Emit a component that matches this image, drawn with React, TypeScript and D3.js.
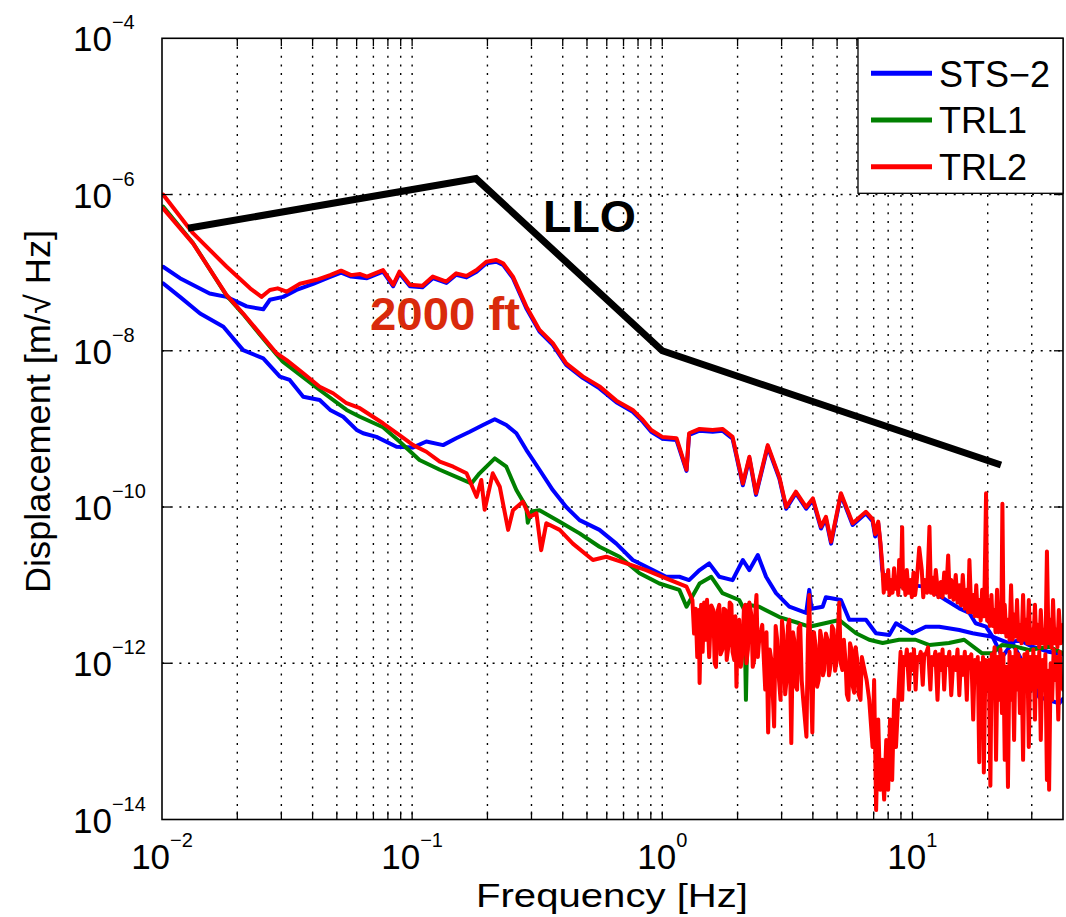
import React from 'react';
import * as d3 from 'd3';

const W = 1066;
const H = 917;
const PLOT = { left: 162, right: 1063, top: 38.3, bottom: 819.5 };
const FONT = 'Liberation Sans, Arial, Helvetica, sans-serif';

const xDomain: [number, number] = [0.01, 40];
const yDomain: [number, number] = [1e-14, 1e-4];
const xTickExps = [-2, -1, 0, 1];
const yTickExps = [-4, -6, -8, -10, -12, -14];
const yGridExps = [-6, -8, -10, -12];

const xTitle = 'Frequency [Hz]';
const yTitle = 'Displacement [m/\u221A Hz]';

const legendItems = [
  { label: 'STS\u22122', color: '#0000ff' },
  { label: 'TRL1', color: '#008000' },
  { label: 'TRL2', color: '#ff0000' },
];

// LLO requirement curve [Hz, m/rtHz]
const lloModel: [number, number][] = [
  [0.0127, 3.7e-7], [0.18, 1.6e-6], [1.0, 1.0e-8], [22.6, 3.45e-10],
];

// 2000 ft group, STS-2 (mostly hidden under TRL2)
const stsUpper: [number, number][] = [
  [0.0101, 1.19e-7], [0.0118, 8.5e-8], [0.0155, 5.4e-8], [0.0181, 4.9e-8], [0.0218, 3.7e-8],
  [0.0254, 3.4e-8], [0.027, 4.5e-8], [0.0305, 4.9e-8], [0.0345, 6.0e-8], [0.0402, 7.2e-8],
  [0.047, 8.8e-8], [0.052, 1.0e-7], [0.057, 8.9e-8], [0.066, 8.5e-8], [0.0765, 1.03e-7],
  [0.084, 6.7e-8], [0.089, 9.8e-8], [0.098, 6.7e-8], [0.11, 6.5e-8], [0.121, 8.5e-8],
  [0.137, 7.4e-8], [0.15, 9.4e-8], [0.165, 8.7e-8], [0.181, 1.03e-7], [0.198, 1.32e-7],
  [0.217, 1.38e-7], [0.231, 1.26e-7], [0.253, 8.5e-8], [0.286, 3.5e-8], [0.323, 1.76e-8],
  [0.365, 1.19e-8], [0.413, 6.6e-9], [0.481, 4.5e-9], [0.561, 3.3e-9], [0.655, 2.2e-9],
  [0.762, 1.66e-9], [0.836, 1.24e-9], [0.903, 9.2e-10], [1.0, 7.5e-10], [1.14, 7.2e-10],
  [1.25, 2.9e-10], [1.28, 8.4e-10], [1.41, 9.5e-10], [1.59, 9.2e-10], [1.74, 9.5e-10],
  [1.91, 7.5e-10], [2.1, 1.9e-10], [2.23, 4.2e-10], [2.37, 1.43e-10], [2.64, 5.9e-10],
  [2.94, 2.3e-10], [3.13, 9.5e-11], [3.42, 1.5e-10], [3.76, 9.5e-11], [4.0, 1.23e-10],
  [4.31, 5.3e-11], [4.51, 7.1e-11], [4.73, 3.4e-11], [5.18, 1.43e-10], [5.77, 5.9e-11],
  [6.52, 8.3e-11], [6.93, 6.6e-11], [7.1, 4.2e-11], [7.3, 6.2e-11], [7.45, 3.3e-11],
  [7.57, 1.6e-11], [7.84, 9.5e-12], [8.86, 1.16e-11], [10, 1.0e-11], [11.3, 9.5e-12],
  [13.6, 6.45e-12], [15.4, 5.05e-12], [16.9, 4.4e-12], [17.9, 3.25e-12], [19.7, 2.94e-12],
  [20.9, 2.19e-12], [22.9, 1.21e-12], [25.1, 1.82e-12], [30.2, 6.1e-13], [32.1, 3.7e-13],
  [38.6, 3.07e-13], [40, 3.5e-13],
];

// surface group, STS-2
const stsLower: [number, number][] = [
  [0.0101, 7.3e-8], [0.0118, 4.9e-8], [0.0142, 3.0e-8], [0.0176, 2.03e-8], [0.0211, 1.02e-8],
  [0.0254, 8.0e-9], [0.0296, 4.66e-9], [0.0324, 4.23e-9], [0.0367, 2.58e-9], [0.0427, 2.34e-9],
  [0.047, 1.75e-9], [0.053, 1.43e-9], [0.06, 9.7e-10], [0.0637, 8.8e-10], [0.072, 7.9e-10],
  [0.0866, 5.9e-10], [0.101, 5.8e-10], [0.114, 6.9e-10], [0.133, 6.2e-10], [0.15, 7.6e-10],
  [0.17, 9.2e-10], [0.192, 1.12e-9], [0.214, 1.33e-9], [0.238, 1.12e-9], [0.261, 8.8e-10],
  [0.286, 5.4e-10], [0.323, 3.0e-10], [0.365, 1.65e-10], [0.413, 1.0e-10], [0.467, 6.8e-11],
  [0.561, 5.1e-11], [0.655, 3.4e-11], [0.762, 2.1e-11], [0.916, 1.56e-11], [1.036, 1.28e-11],
  [1.17, 1.28e-11], [1.28, 1.16e-11], [1.41, 1.56e-11], [1.54, 1.9e-11], [1.69, 1.28e-11],
  [1.91, 1.16e-11], [2.1, 2.1e-11], [2.23, 1.56e-11], [2.41, 2.43e-11], [2.6, 1.28e-11],
  [2.85, 7.9e-12], [3.22, 5.3e-12], [3.76, 4.4e-12], [3.87, 8.7e-12], [3.95, 5.0e-12],
  [4.38, 5.3e-12], [4.51, 7.0e-12], [5.18, 6.45e-12], [5.59, 3.6e-12], [6.52, 3.6e-12],
  [7.15, 2.42e-12], [8.08, 2.3e-12], [8.6, 3.25e-12], [10, 2.42e-12], [11.3, 2.94e-12],
  [12.8, 2.94e-12], [15.4, 2.67e-12], [17.4, 2.42e-12], [20.9, 2.19e-12], [24.4, 1.8e-12],
  [26.7, 1.99e-12], [30.2, 1.63e-12], [35, 1.4e-12], [40, 1.3e-12],
];

// surface group, TRL1
const trl1Lower: [number, number][] = [
  [0.0101, 7.0e-7], [0.0133, 2.4e-7], [0.0181, 5.1e-8], [0.0211, 2.95e-8], [0.0246, 1.62e-8],
  [0.0287, 9.0e-9], [0.0305, 7.2e-9], [0.0427, 3.15e-9], [0.0547, 1.75e-9], [0.0618, 1.43e-9],
  [0.0765, 1.05e-9], [0.089, 6.9e-10], [0.107, 4.0e-10], [0.129, 3.0e-10], [0.155, 2.33e-10],
  [0.1725, 2.0e-10], [0.186, 2.7e-10], [0.214, 4.2e-10], [0.238, 3.28e-10], [0.261, 1.65e-10],
  [0.286, 1.0e-10], [0.29, 6.3e-11], [0.3, 8.8e-11], [0.323, 9.1e-11], [0.389, 6.5e-11],
  [0.467, 4.6e-11], [0.561, 3.1e-11], [0.675, 2.31e-11], [0.811, 1.42e-11], [0.974, 1.05e-11],
  [1.17, 8.7e-12], [1.25, 5.3e-12], [1.41, 1.05e-11], [1.57, 1.28e-11], [1.74, 7.9e-12],
  [2.03, 6.45e-12], [2.13, 4.8e-12], [2.16, 3.4e-13], [2.2, 5.6e-12], [2.44, 5.3e-12],
  [2.94, 3.9e-12], [3.53, 3.25e-12], [3.87, 2.94e-12], [5.1, 3.58e-12], [5.95, 2.42e-12],
  [6.72, 2.0e-12], [7.6, 1.82e-12], [8.85, 2.0e-12], [10.3, 2.0e-12], [11.7, 1.71e-12],
  [14.0, 1.82e-12], [16.1, 2.0e-12], [19.0, 1.34e-12], [20.9, 1.34e-12], [22.8, 1.71e-12],
  [25.9, 1.63e-12], [29.2, 1.48e-12], [35.2, 1.63e-12], [40, 1.34e-12],
];

// surface group, TRL2
const trl2Lower: [number, number][] = [
  [0.0101, 6.65e-7], [0.0133, 2.37e-7], [0.0181, 5.2e-8], [0.0211, 3.0e-8], [0.0246, 1.67e-8],
  [0.0287, 9.3e-9], [0.0315, 7.6e-9], [0.0367, 5.15e-9], [0.0427, 3.47e-9], [0.0483, 2.86e-9],
  [0.0547, 2.13e-9], [0.0618, 1.84e-9], [0.0765, 1.18e-9], [0.089, 8.3e-10], [0.101, 6.2e-10],
  [0.114, 5.1e-10], [0.129, 3.8e-10], [0.146, 3.28e-10], [0.165, 2.7e-10], [0.181, 1.35e-10],
  [0.189, 2.22e-10], [0.195, 9.2e-11], [0.21, 2.7e-10], [0.224, 1.82e-10], [0.242, 5.1e-11],
  [0.253, 9.1e-11], [0.277, 1.17e-10], [0.295, 7.5e-11], [0.314, 8.3e-11], [0.328, 2.8e-11],
  [0.344, 6.2e-11], [0.389, 5.1e-11], [0.439, 3.4e-11], [0.528, 2.1e-11], [0.597, 2.31e-11],
  [0.718, 1.9e-11], [0.862, 1.56e-11], [1.036, 1.22e-11], [1.25, 9.55e-12],
  [1.32, 6.45e-12], [1.34, 2.4e-12], [1.36, 5.0e-12], [1.38, 1.2e-12], [1.4, 4.8e-12], [1.41, 5.6e-13], [1.43, 5.6e-12],
  [1.45, 1.4e-12], [1.47, 6.0e-12], [1.49, 2.0e-12], [1.51, 6.5e-12], [1.54, 1.2e-12], [1.57, 5.5e-12],
  [1.6, 4.8e-12], [1.62, 1.0e-12], [1.64, 9.0e-13], [1.66, 4.5e-12],
  [1.69, 5.6e-12], [1.71, 1.3e-12], [1.74, 1.5e-12], [1.76, 5.0e-12], [1.79, 4.8e-12], [1.81, 1.1e-12], [1.84, 1.7e-12],
  [1.86, 6.0e-12], [1.89, 5.6e-12], [1.91, 1.4e-12],
  [1.94, 1.1e-12], [1.96, 4.0e-12], [1.98, 5.0e-13], [2.0, 3.0e-12], [2.03, 3.6e-12], [2.06, 9.0e-13], [2.09, 1.3e-12],
  [2.12, 5.0e-12], [2.15, 5.6e-12], [2.17, 1.0e-12],
  [2.2, 1.5e-12], [2.23, 6.0e-12], [2.27, 4.2e-12], [2.3, 9.0e-13], [2.33, 1.1e-12], [2.36, 5.0e-12], [2.38, 7.5e-12],
  [2.41, 1.2e-12], [2.44, 2.0e-12],
  [2.51, 3.1e-12], [2.58, 4.6e-13], [2.61, 2.5e-12], [2.65, 1.3e-13], [2.69, 1.5e-12], [2.73, 1.1e-12], [2.8, 1.55e-13],
  [2.84, 3.0e-12], [2.88, 2.0e-12], [2.93, 6.0e-13], [2.97, 3.4e-13], [3.01, 3.5e-12], [3.05, 2.3e-12], [3.1, 4.0e-13],
  [3.14, 6.1e-13], [3.18, 3.0e-12], [3.22, 3.6e-12],
  [3.28, 9.5e-14], [3.33, 2.5e-12], [3.37, 2.0e-12], [3.42, 5.0e-13], [3.46, 4.6e-13], [3.51, 2.8e-12], [3.56, 3.1e-12],
  [3.61, 6.0e-13], [3.66, 3.4e-13],
  [3.77, 1.15e-13], [3.82, 2.0e-12], [3.87, 7.5e-12], [3.92, 8.0e-13], [3.98, 1.3e-13], [4.04, 2.5e-12], [4.1, 1.7e-12],
  [4.16, 5.0e-13], [4.22, 6.1e-13],
  [4.28, 2.6e-12], [4.34, 2.0e-12], [4.39, 7.0e-13], [4.44, 8.2e-13], [4.51, 2.4e-12], [4.58, 2.0e-12], [4.64, 7.0e-13],
  [4.71, 9.5e-13], [4.77, 3.0e-12], [4.84, 2.7e-12], [4.91, 8.0e-13],
  [4.98, 1.1e-12], [5.1, 6.0e-12], [5.17, 1.0e-12], [5.25, 8.2e-13], [5.32, 2.0e-12], [5.4, 1.1e-12], [5.47, 4.0e-13],
  [5.55, 3.4e-13], [5.63, 1.8e-12],
  [5.71, 1.5e-12], [5.78, 5.0e-13], [5.85, 4.2e-13], [5.93, 1.6e-12], [6.02, 1.1e-12], [6.1, 4.0e-13], [6.2, 3.4e-13],
  [6.28, 1.2e-12], [6.37, 9.5e-13],
  [6.56, 6.1e-13], [6.72, 3.4e-13], [6.93, 8.5e-14], [7.03, 6.1e-13], [7.16, 1.32e-14],
  [7.3, 1.9e-13], [7.43, 2.4e-14], [7.57, 5.8e-14], [7.71, 1.8e-14], [7.86, 1.04e-13],
  [8.0, 2.4e-14], [8.14, 1.9e-13], [8.3, 3.2e-14], [8.45, 3.4e-13], [8.6, 8.5e-14],
  [8.85, 6.1e-13], [8.97, 1.4e-12], [9.1, 3.4e-13], [9.22, 1.2e-12], [9.35, 9.5e-13], [9.5, 1.5e-12],
  [9.7, 4.6e-13], [9.85, 1.3e-12], [10.0, 8.2e-13], [10.15, 1.5e-12], [10.3, 4.6e-13], [10.45, 1.2e-12],
  [10.6, 1.1e-12], [10.8, 1.4e-12], [11.0, 5.3e-13], [11.15, 1.3e-12], [11.3, 1.3e-12], [11.55, 1.6e-12],
  [11.8, 4.6e-13], [11.95, 1.2e-12], [12.1, 9.5e-13], [12.35, 1.4e-12], [12.6, 3.4e-13], [12.8, 1.3e-12],
  [13.0, 8.2e-13], [13.2, 1.5e-12], [13.4, 4.6e-13], [13.6, 1.2e-12], [13.8, 9.5e-13], [14.05, 1.4e-12],
  [14.3, 3.9e-13], [14.6, 1.2e-12], [14.9, 8.2e-13], [15.15, 1.5e-12], [15.4, 3.9e-13], [15.65, 1.2e-12],
  [15.9, 7.1e-13], [16.2, 1.4e-12], [16.5, 3.4e-13], [16.7, 1.2e-12], [16.9, 1.1e-12], [17.2, 1.3e-12],
  [17.5, 1.9e-13], [17.75, 1.1e-12], [18.0, 6.1e-13], [18.25, 1.2e-12], [18.5, 5.4e-14], [18.75, 1.0e-12],
  [19.0, 3.4e-13], [19.15, 1.2e-12], [19.3, 4.0e-14], [19.6, 1.1e-12], [19.9, 4.6e-13], [20.2, 1.1e-12],
  [20.5, 2.7e-14], [20.75, 1.3e-12], [21.0, 6.1e-13], [21.3, 1.6e-12], [21.6, 5.8e-14], [21.9, 1.2e-12],
  [22.2, 3.4e-13], [22.5, 1.5e-12], [22.8, 2.3e-13], [23.1, 1.3e-12], [23.4, 5.8e-14], [23.75, 9.0e-13],
  [24.1, 2.6e-14], [24.45, 1.4e-12], [24.8, 3.4e-13], [25.15, 1.2e-12], [25.5, 1.04e-13], [25.85, 1.5e-12],
  [26.2, 4.6e-13], [26.55, 1.3e-12], [26.9, 2.3e-13], [27.3, 1.1e-12], [27.7, 5.8e-14], [28.05, 1.3e-12],
  [28.4, 6.1e-13], [28.8, 1.4e-12], [29.2, 8.5e-14], [29.6, 1.2e-12], [30.0, 4.6e-13], [30.45, 1.5e-12],
  [30.9, 1.9e-13], [31.3, 1.2e-12], [31.7, 5.0e-13], [32.15, 1.4e-12], [32.6, 1.04e-13], [33.1, 1.1e-12],
  [33.6, 4.6e-13], [34.0, 1.3e-12], [34.5, 3.2e-14], [34.85, 8.0e-13], [35.2, 2.4e-14], [35.7, 1.0e-12],
  [36.2, 3.4e-13], [36.7, 1.5e-12], [37.2, 6.1e-13], [37.75, 1.2e-12], [38.3, 1.9e-13], [38.8, 1.4e-12],
  [39.3, 6.1e-13], [40, 4.6e-13],
];

// 2000 ft group, TRL2
const trl2Upper: [number, number][] = [
  [0.0101, 1.0e-6], [0.0133, 3.2e-7], [0.0181, 1.2e-7], [0.0225, 6.3e-8], [0.025, 4.9e-8],
  [0.027, 6.0e-8], [0.029, 6.3e-8], [0.0315, 5.7e-8], [0.0356, 7.2e-8], [0.0415, 8.1e-8],
  [0.047, 9.3e-8], [0.052, 1.06e-7], [0.057, 9.3e-8], [0.062, 9.6e-8], [0.066, 8.9e-8],
  [0.0765, 1.08e-7], [0.084, 7.0e-8], [0.089, 1.03e-7], [0.098, 7.0e-8], [0.11, 6.8e-8],
  [0.121, 8.9e-8], [0.137, 7.7e-8], [0.15, 9.8e-8], [0.165, 9.1e-8], [0.181, 1.08e-7],
  [0.198, 1.38e-7], [0.217, 1.45e-7], [0.231, 1.32e-7], [0.253, 8.9e-8], [0.286, 3.7e-8],
  [0.323, 1.85e-8], [0.365, 1.25e-8], [0.413, 6.9e-9], [0.481, 4.7e-9], [0.561, 3.5e-9],
  [0.655, 2.3e-9], [0.762, 1.75e-9], [0.836, 1.3e-9], [0.903, 9.7e-10], [1.0, 7.9e-10],
  [1.14, 7.6e-10], [1.25, 3.0e-10], [1.28, 8.8e-10], [1.41, 1.0e-9], [1.59, 9.7e-10],
  [1.74, 1.0e-9], [1.91, 7.9e-10], [2.1, 2.0e-10], [2.23, 4.4e-10], [2.37, 1.5e-10],
  [2.64, 6.2e-10], [2.94, 2.4e-10], [3.13, 1.0e-10], [3.42, 1.57e-10], [3.76, 1.0e-10],
  [4.0, 1.29e-10], [4.31, 5.6e-11], [4.51, 7.5e-11], [4.73, 3.6e-11], [5.18, 1.5e-10],
  [5.77, 6.2e-11], [6.52, 8.7e-11], [6.93, 7.0e-11], [7.1, 4.5e-11], [7.3, 6.5e-11],
  [7.45, 3.5e-11], [7.57, 1.9e-11], [7.68, 8.0e-12], [7.78, 1.35e-11], [7.9, 9.0e-12], [8.0, 1.56e-11],
  [8.1, 7.5e-12], [8.2, 1.16e-11], [8.33, 8.0e-12], [8.45, 1.65e-11], [8.58, 9.0e-12], [8.7, 1.25e-11],
  [8.78, 7.5e-12], [8.85, 2.1e-11], [9.0, 1.0e-11], [9.1, 5.5e-11], [9.18, 9.0e-12], [9.26, 1.25e-11],
  [9.38, 7.5e-12], [9.5, 1.56e-11], [9.65, 8.0e-12], [9.8, 1.16e-11], [9.95, 7.0e-12], [10.1, 1.45e-11],
  [10.25, 7.5e-12], [10.4, 1.1e-11], [10.65, 3.0e-11], [10.9, 1.56e-11], [11.05, 7.0e-12], [11.2, 1.16e-11],
  [11.45, 8.0e-12], [11.7, 5.6e-11], [11.85, 8.0e-12], [12.0, 1.25e-11], [12.2, 7.5e-12], [12.4, 1.56e-11],
  [12.7, 7.0e-12], [13.0, 1.1e-11], [13.2, 7.0e-12], [13.4, 1.45e-11], [13.65, 8.0e-12], [13.9, 2.4e-11],
  [14.1, 7.0e-12], [14.3, 1.16e-11], [14.6, 6.5e-12], [14.9, 1.35e-11], [15.15, 6.0e-12], [15.4, 1.0e-11],
  [15.65, 5.5e-12], [15.9, 1.35e-11], [16.2, 5.0e-12], [16.5, 8.7e-12], [16.7, 4.5e-12], [16.9, 2.1e-11],
  [17.2, 4.5e-12], [17.5, 7.5e-12], [17.75, 4.0e-12], [18.0, 1.0e-11], [18.25, 4.0e-12], [18.5, 6.45e-12],
  [18.75, 3.5e-12], [19.0, 8.7e-12], [19.35, 4.0e-12], [19.7, 1.5e-10], [19.9, 3.5e-12], [20.1, 6.45e-12],
  [20.4, 3.0e-12], [20.7, 7.5e-12], [20.95, 3.0e-12], [21.2, 4.8e-12], [21.5, 2.5e-12], [21.8, 8.7e-12],
  [22.1, 2.5e-12], [22.4, 4.8e-12], [22.65, 2.5e-12], [22.9, 1.1e-10], [23.15, 2.5e-12], [23.4, 5.6e-12],
  [23.75, 2.2e-12], [24.1, 3.6e-12], [24.45, 2.0e-12], [24.8, 1.0e-11], [25.15, 2.0e-12], [25.5, 4.2e-12],
  [25.85, 2.2e-12], [26.2, 6.45e-12], [26.55, 2.0e-12], [26.9, 3.1e-12], [27.3, 1.8e-12], [27.7, 7.5e-12],
  [28.05, 2.0e-12], [28.4, 3.6e-12], [28.8, 1.8e-12], [29.2, 6.45e-12], [29.6, 1.8e-12], [30.0, 2.7e-12],
  [30.45, 1.8e-12], [30.9, 5.6e-12], [31.3, 1.8e-12], [31.7, 3.1e-12], [32.15, 1.6e-12], [32.6, 4.8e-12],
  [33.1, 1.8e-12], [33.6, 2.7e-12], [34.05, 1.6e-12], [34.5, 2.7e-11], [35.0, 1.8e-12], [35.5, 3.6e-12],
  [36.0, 1.6e-12], [36.5, 6.45e-12], [37.0, 1.8e-12], [37.5, 2.7e-12], [38.0, 1.6e-12], [38.5, 4.8e-12],
  [39.2, 1.8e-12], [40, 3.1e-12],
];

const seriesDraw = [
  { data: stsUpper, color: '#0000ff' },
  { data: stsLower, color: '#0000ff' },
  { data: trl1Lower, color: '#008000' },
  { data: trl2Lower, color: '#ff0000' },
  { data: trl2Upper, color: '#ff0000' },
];

export default function App() {
  const x = d3.scaleLog().domain(xDomain).range([PLOT.left, PLOT.right]);
  const y = d3.scaleLog().domain(yDomain).range([PLOT.bottom, PLOT.top]);
  const line = d3.line<[number, number]>().x(d => x(d[0])).y(d => y(d[1]));

  const minorX: number[] = [];
  for (let e = -2; e <= 1; e++) {
    for (let m = 1; m <= 9; m++) {
      const v = +(m * Math.pow(10, e)).toPrecision(6);
      if (v > xDomain[0] * 1.0001 && v < xDomain[1] * 0.9999) minorX.push(v);
    }
  }

  const supText = (e: number) => (e < 0 ? '\u2212' + Math.abs(e) : String(e));

  return (
    <svg width={W} height={H} style={{ position: 'absolute', left: 0, top: 0, background: '#fff' }}
      fontFamily={FONT}>
      <defs>
        <clipPath id="plotclip">
          <rect x={PLOT.left} y={PLOT.top} width={PLOT.right - PLOT.left} height={PLOT.bottom - PLOT.top} />
        </clipPath>
      </defs>
      <rect x={0} y={0} width={W} height={H} fill="#fff" />

      {/* grid */}
      <g stroke="#000" strokeWidth={1.4} strokeDasharray="2,6.7">
        {minorX.map(v => (
          <line key={'gx' + v} x1={x(v)} x2={x(v)} y1={PLOT.top} y2={PLOT.bottom} />
        ))}
        {yGridExps.map(e => (
          <line key={'gy' + e} x1={PLOT.left} x2={PLOT.right} y1={y(Math.pow(10, e))} y2={y(Math.pow(10, e))} />
        ))}
      </g>

      {/* data */}
      <g clipPath="url(#plotclip)" fill="none" strokeWidth={4} strokeLinejoin="round" strokeLinecap="round">
        {seriesDraw.map((s, i) => (
          <path key={i} d={line(s.data) || ''} stroke={s.color} />
        ))}
      </g>

      {/* LLO model */}
      <path d={line(lloModel) || ''} fill="none" stroke="#000" strokeWidth={7} strokeLinejoin="miter" strokeLinecap="butt" />
      <text x={543} y={232} fontSize={44} fontWeight="bold" fill="#000" textLength={93} lengthAdjust="spacingAndGlyphs">LLO</text>
      <text x={370} y={330} fontSize={46} fontWeight="bold" fill="#d92a0c" textLength={150} lengthAdjust="spacingAndGlyphs">2000 ft</text>

      {/* frame and ticks */}
      <g stroke="#000" strokeWidth={1.3}>
        {minorX.map(v => (
          <g key={'tx' + v}>
            <line x1={x(v)} x2={x(v)} y1={PLOT.bottom} y2={PLOT.bottom - 8} />
            <line x1={x(v)} x2={x(v)} y1={PLOT.top} y2={PLOT.top + 8} />
          </g>
        ))}
        {yGridExps.map(e => (
          <g key={'ty' + e}>
            <line x1={PLOT.left} x2={PLOT.left + 9} y1={y(Math.pow(10, e))} y2={y(Math.pow(10, e))} />
            <line x1={PLOT.right} x2={PLOT.right - 9} y1={y(Math.pow(10, e))} y2={y(Math.pow(10, e))} />
          </g>
        ))}
        <rect x={PLOT.left} y={PLOT.top} width={PLOT.right - PLOT.left} height={PLOT.bottom - PLOT.top} fill="none" strokeWidth={1.6} />
      </g>

      {/* y tick labels */}
      {yTickExps.map(e => (
        <text key={'yl' + e} x={73} y={y(Math.pow(10, e)) + 13} fontSize={35} fill="#000">
          10<tspan fontSize={20} dy={-22}>{supText(e)}</tspan>
        </text>
      ))}

      {/* x tick labels */}
      {xTickExps.map(e => (
        <text key={'xl' + e} x={x(Math.pow(10, e))} y={869} fontSize={35} fill="#000" textAnchor="middle">
          10<tspan fontSize={20} dy={-22}>{supText(e)}</tspan>
        </text>
      ))}

      {/* axis titles */}
      <text x={476} y={907} fontSize={33} fill="#000" textLength={272} lengthAdjust="spacingAndGlyphs">{xTitle}</text>
      <text transform="translate(50,411.5) rotate(-90)" fontSize={35} fill="#000" textAnchor="middle"
        textLength={363} lengthAdjust="spacingAndGlyphs">{yTitle}</text>

      {/* legend */}
      <g>
        <rect x={858} y={PLOT.top} width={PLOT.right - 858} height={155} fill="#fff" stroke="#000" strokeWidth={1.3} />
        {legendItems.map((it, i) => {
          const ly = 73.3 + i * 46.7;
          return (
            <g key={it.label}>
              <line x1={871} x2={932} y1={ly} y2={ly} stroke={it.color} strokeWidth={5} />
              <text x={939} y={ly + 13.4} fontSize={36} fill="#000">{it.label}</text>
            </g>
          );
        })}
      </g>
    </svg>
  );
}
